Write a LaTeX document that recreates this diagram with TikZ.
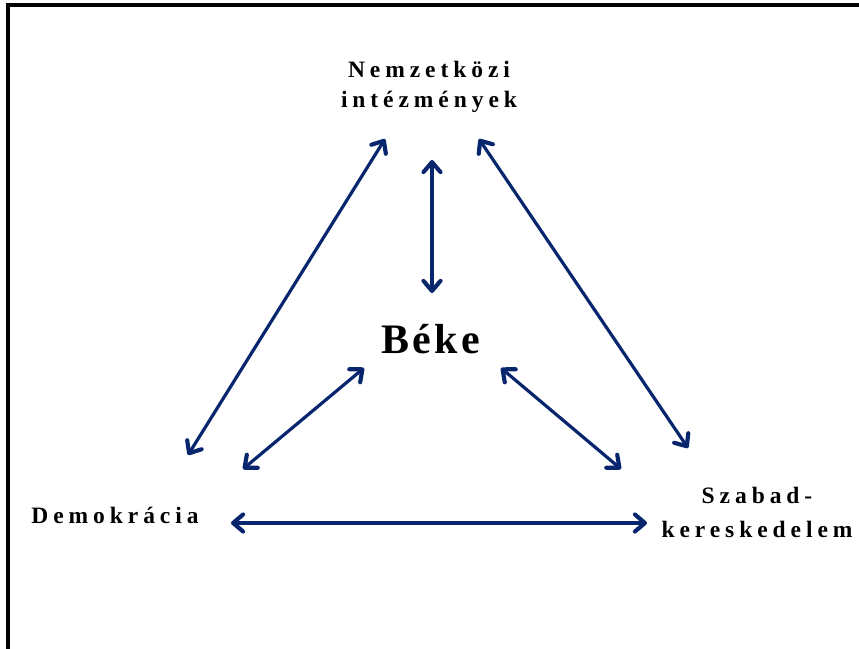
\documentclass[tikz,border=0pt]{standalone}
\usepackage{fontspec}
\setmainfont{Liberation Serif}
\newfontfamily\spacedfont[LetterSpace=21]{Liberation Serif}
\newfontfamily\bekefont[LetterSpace=8]{Liberation Serif}
\usetikzlibrary{arrows.meta}
\definecolor{navy}{RGB}{8,38,110}

\begin{document}
\begin{tikzpicture}[
  x=1pt, y=-1pt,
  >={Straight Barb[length=10pt,width=17pt,line width=0pt 1.3,round]},
  term/.style={
    font=\spacedfont\bfseries\fontsize{23.5}{30}\selectfont,
    align=center,
    inner sep=0pt,
    anchor=base
  },
  core/.style={
    font=\bekefont\bfseries\fontsize{42}{50}\selectfont,
    inner sep=0pt,
    anchor=base
  },
  link/.style={<->, draw=navy, line width=3.2pt}
]
\useasboundingbox (0,0) rectangle (859,648);

% frame
\draw[line width=4pt, line join=miter] (8,670) -- (8,5.3) -- (880,5.3);

\node[term] (nemz) at (429,107) {Nemzetközi\\intézmények};
\node[core] (beke) at (431,353) {Béke};
\node[term] (demo) at (115,523) {Demokrácia};
\node[term] (szab) at (757,537) {Szabad-\\[4pt]kereskedelem};

% arrow ends
\coordinate (nl) at (385,139);
\coordinate (dn) at (188,455);
\coordinate (nc) at (432,160);
\coordinate (bn) at (432,293);
\coordinate (nr) at (479,139);
\coordinate (sn) at (688,448);
\coordinate (bd) at (364,368);
\coordinate (db) at (243,469);
\coordinate (bs) at (501,368);
\coordinate (sb) at (621,469);
\coordinate (ds) at (231,523);
\coordinate (sd) at (647,523);

% Arrows
\draw[link] (nl) -- (dn);
\draw[link] (nc) -- (bn);
\draw[link] (nr) -- (sn);
\draw[link] (bd) -- (db);
\draw[link] (bs) -- (sb);
\draw[link] (ds) -- (sd);

\end{tikzpicture}
\end{document}
